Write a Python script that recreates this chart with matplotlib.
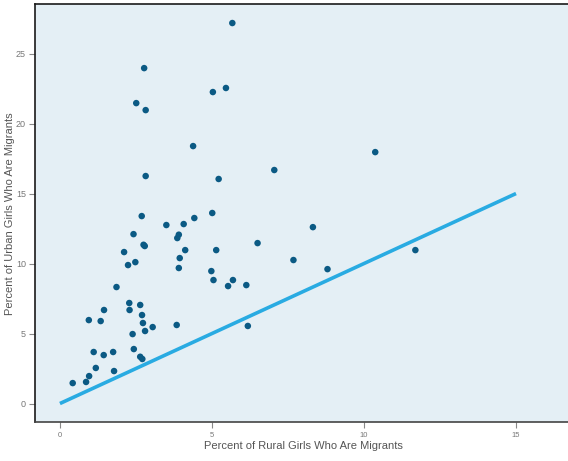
import matplotlib
matplotlib.use("Agg")
import matplotlib.pyplot as plt

rural = [0.42, 0.86, 0.96, 1.18, 1.11, 1.44, 1.75, 1.78, 0.95, 1.34, 1.45, 1.86,
         2.11, 2.24, 2.28, 2.29, 2.42, 2.48, 2.75, 2.79, 2.39, 2.43, 2.64, 2.70,
         2.73, 2.80, 3.05, 2.64, 2.71, 2.69, 2.82, 2.51, 2.82, 2.77, 3.50, 3.84,
         3.91, 3.86, 3.94, 3.91, 4.12, 4.07, 4.38, 4.42, 5.01, 5.03, 5.46, 5.67,
         5.22, 5.14, 4.98, 5.05, 5.53, 5.69, 6.13, 6.18, 6.50, 7.05, 7.68, 8.32,
         8.80, 10.37, 11.69]
urban = [1.46, 1.54, 1.96, 2.54, 3.68, 3.46, 3.68, 2.32, 5.96, 5.89, 6.68, 8.32,
         10.82, 9.89, 7.18, 6.68, 12.10, 10.10, 11.34, 11.25, 4.96, 3.89, 7.04, 6.32,
         5.75, 5.18, 5.46, 3.34, 3.18, 13.39, 16.25, 21.46, 20.96, 23.96, 12.75, 5.61,
         12.06, 11.82, 10.39, 9.68, 10.96, 12.82, 18.39, 13.25, 13.61, 22.25, 22.54, 27.18,
         16.04, 10.96, 9.46, 8.82, 8.39, 8.82, 8.46, 5.54, 11.46, 16.68, 10.25, 12.60,
         9.60, 17.96, 10.96]
line_x = [0, 15]
line_y = [0, 15]
x_ticks = [0, 5, 10, 15]
y_ticks = [0, 5, 10, 15, 20, 25]

plt.rcParams['font.family'] = ['Liberation Sans', 'DejaVu Sans']

W, H = 568, 461
fig = plt.figure(figsize=(W/100, H/100), dpi=100)
ax = fig.add_axes([35/W, 39/H, 533/W, 418/H])
ax.set_facecolor('#E4EFF5')

ax.plot(line_x, line_y, color='#29ABE2', linewidth=2.6, solid_capstyle='butt', zorder=2)
ax.scatter(rural, urban, s=22, color='#0B5A84', edgecolors='none', zorder=3)

ax.set_xlim(-0.82, 16.71)
ax.set_ylim(-1.32, 28.54)
ax.set_xticks(x_ticks)
ax.set_yticks(y_ticks)
ax.tick_params(axis='x', labelsize=5.5, colors='#888888', length=4, width=0.8, pad=3)
ax.tick_params(axis='y', labelsize=6.5, colors='#888888', length=4, width=0.8, pad=2.5)
for lab in ax.get_xticklabels() + ax.get_yticklabels():
    lab.set_color('#777777')

for side in ['left', 'top']:
    ax.spines[side].set_color('#1a1a1a')
    ax.spines[side].set_linewidth(1.2)
ax.spines['bottom'].set_color('#444444')
ax.spines['bottom'].set_linewidth(1.2)
ax.spines['right'].set_visible(False)

fig.text(303/W, 1 - 446/H, 'Percent of Rural Girls Who Are Migrants', fontsize=8,
         color='#555555', ha='center', va='center')
fig.text(10.5/W, 1 - 214/H, 'Percent of Urban Girls Who Are Migrants', fontsize=8,
         color='#555555', ha='center', va='center', rotation=90)

fig.savefig('out.png', dpi=100)
